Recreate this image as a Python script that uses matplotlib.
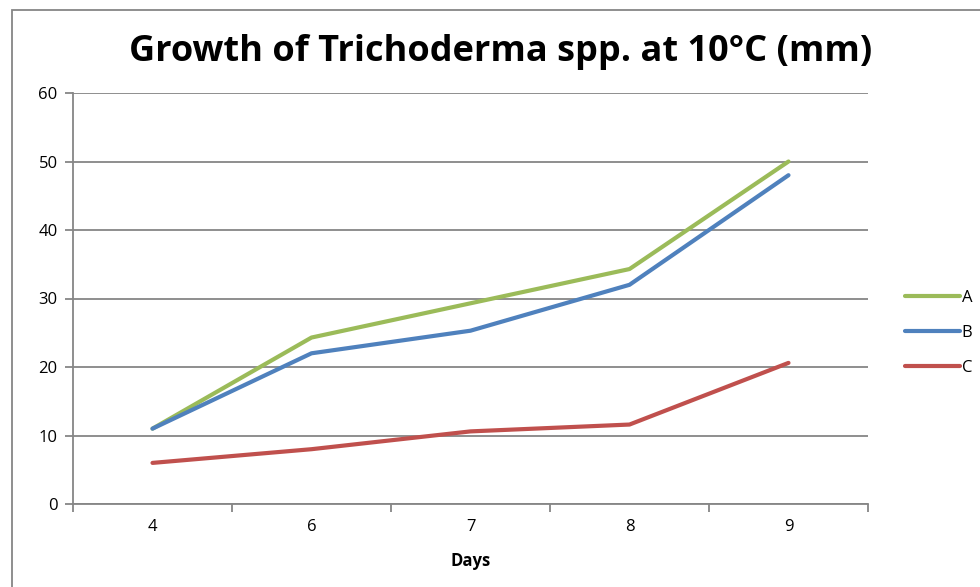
import matplotlib.pyplot as plt
from matplotlib.patches import Rectangle

days = ['4', '6', '7', '8', '9']
a_vals = [11, 24.3, 29.3, 34.3, 50]
b_vals = [11, 22, 25.3, 32, 48]
c_vals = [6, 8, 10.6, 11.6, 20.6]

plt.rcParams['font.family'] = ['Open Sans', 'DejaVu Sans']

fig = plt.figure(figsize=(9.8, 5.87), dpi=100)
ax = fig.add_axes([73/980, 83/587, 795/980, 411/587])

x = list(range(len(days)))
ax.plot(x, a_vals, color='#9BBB59', lw=3, label='A', solid_capstyle='round')
ax.plot(x, b_vals, color='#4F81BD', lw=3, label='B', solid_capstyle='round')
ax.plot(x, c_vals, color='#C0504D', lw=3, label='C', solid_capstyle='round')

ax.set_xlim(-0.5, len(days) - 0.5)
ax.set_ylim(0, 60)
ax.set_yticks(range(0, 61, 10))
ax.set_xticks([i - 0.5 for i in range(len(days) + 1)])
ax.set_xticklabels([])
ax.set_xticks(x, minor=True)
ax.set_xticklabels(days, minor=True)
ax.tick_params(axis='x', which='major', length=6, color='#868686', width=1.3)
ax.tick_params(axis='x', which='minor', length=0, pad=11, labelsize=12)
ax.tick_params(axis='y', length=6, color='#868686', width=1.3, labelsize=12, pad=5)
ax.grid(axis='y', color='#868686', lw=1.3)
ax.set_axisbelow(True)
for s in ['top', 'right']:
    ax.spines[s].set_visible(False)
for s in ['left', 'bottom']:
    ax.spines[s].set_color('#868686')
    ax.spines[s].set_linewidth(1.3)

ax.set_xlabel('Days', fontsize=12, fontweight='bold', labelpad=12)
fig.text(501/980, 1 - 52/587, 'Growth of Trichoderma spp. at 10°C (mm)',
         ha='center', va='center', fontsize=26, fontweight='bold')

ax.legend(loc='center left', bbox_to_anchor=(890/980, 1 - 333/587),
          bbox_transform=fig.transFigure, frameon=False, fontsize=12,
          handlelength=3.3, handletextpad=0.1, labelspacing=1.15)

fig.patches.append(Rectangle((12/980, -0.1), 1.2, 1 - 10/587 + 0.1,
                             transform=fig.transFigure, fill=False,
                             edgecolor='#868686', lw=1.3))

fig.savefig('out.png', dpi=100)
